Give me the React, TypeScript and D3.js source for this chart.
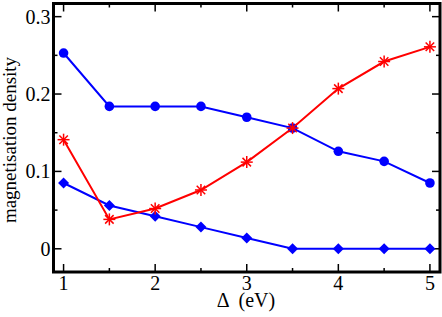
import React from "react";
import * as d3 from "d3";

const xValues = [1, 1.5, 2, 2.5, 3, 3.5, 4, 4.5, 5];
const circleSeries = [0.253, 0.184, 0.184, 0.184, 0.17, 0.156, 0.126, 0.113, 0.085];
const starSeries = [0.141, 0.038, 0.052, 0.076, 0.112, 0.156, 0.207, 0.242, 0.261];
const diamondSeries = [0.085, 0.056, 0.042, 0.028, 0.014, 0, 0, 0, 0];
const xTicks = [1, 2, 3, 4, 5];
const xMinor = [1.5, 2.5, 3.5, 4.5];
const yTicks = [0, 0.1, 0.2, 0.3];
const yTickLabels = ["0", "0.1", "0.2", "0.3"];
const yMinor = [0.05, 0.15, 0.25];

const W = 442;
const H = 317;
const L = 53.5, R = 440, T = 3.5, B = 272;

export default function App() {
  const x = d3.scaleLinear().domain([0.89, 5.11]).range([L, R]);
  const y = d3.scaleLinear().domain([-0.03, 0.317]).range([B, T]);
  const line = d3.line<number>().x((_, i) => x(xValues[i])).y((v) => y(v));
  const font = "'Liberation Serif', 'Times New Roman', serif";
  const blue = "#0000ff";
  const red = "#ff0000";
  const star = (cx: number, cy: number, k: number) => {
    const r = 6;
    const d = r * Math.SQRT1_2;
    return (
      <g key={k} stroke={red} strokeWidth={1.5}>
        <line x1={cx - r} y1={cy} x2={cx + r} y2={cy} />
        <line x1={cx} y1={cy - r} x2={cx} y2={cy + r} />
        <line x1={cx - d} y1={cy - d} x2={cx + d} y2={cy + d} />
        <line x1={cx - d} y1={cy + d} x2={cx + d} y2={cy - d} />
      </g>
    );
  };
  return (
    <svg width={W} height={H} style={{ position: "absolute", left: 0, top: 0, background: "#fff" }}>
      <rect width={W} height={H} fill="#fff" />
      <g stroke="#000" strokeWidth={1.5}>
        {xTicks.map((t) => (
          <g key={"xt" + t}>
            <line x1={x(t)} x2={x(t)} y1={B} y2={B - 8} />
            <line x1={x(t)} x2={x(t)} y1={T} y2={T + 8} />
          </g>
        ))}
        {xMinor.map((t) => (
          <g key={"xm" + t}>
            <line x1={x(t)} x2={x(t)} y1={B} y2={B - 4} />
            <line x1={x(t)} x2={x(t)} y1={T} y2={T + 4} />
          </g>
        ))}
        {yTicks.map((t) => (
          <g key={"yt" + t}>
            <line x1={L} x2={L + 8} y1={y(t)} y2={y(t)} />
            <line x1={R} x2={R - 8} y1={y(t)} y2={y(t)} />
          </g>
        ))}
        {yMinor.map((t) => (
          <g key={"ym" + t}>
            <line x1={L} x2={L + 4} y1={y(t)} y2={y(t)} />
            <line x1={R} x2={R - 4} y1={y(t)} y2={y(t)} />
          </g>
        ))}
      </g>
      <path d={line(circleSeries) || ""} fill="none" stroke={blue} strokeWidth={2} />
      <path d={line(diamondSeries) || ""} fill="none" stroke={blue} strokeWidth={2} />
      <path d={line(starSeries) || ""} fill="none" stroke={red} strokeWidth={2} />
      {circleSeries.map((v, i) => (
        <circle key={"c" + i} cx={x(xValues[i])} cy={y(v)} r={4.8} fill={blue} />
      ))}
      {diamondSeries.map((v, i) => {
        const cx = x(xValues[i]);
        const cy = y(v);
        const s = 5.5;
        return (
          <path key={"d" + i} d={`M${cx},${cy - s}L${cx + s},${cy}L${cx},${cy + s}L${cx - s},${cy}Z`} fill={blue} />
        );
      })}
      {starSeries.map((v, i) => star(x(xValues[i]), y(v), i))}
      <rect x={L} y={T} width={R - L} height={B - T} fill="none" stroke="#000" strokeWidth={3} />
      <g fontFamily={font} fontSize={20} fill="#000">
        {xTicks.map((t) => (
          <text key={"xl" + t} x={x(t)} y={290} textAnchor="middle">{t}</text>
        ))}
        {yTicks.map((t, i) => (
          <text key={"yl" + t} x={L - 3} y={y(t) + 7} textAnchor="end">{yTickLabels[i]}</text>
        ))}
      </g>
      <text x={246} y={307} textAnchor="middle" fontFamily={font} fontSize={20} style={{ whiteSpace: "pre" }}>
        {"Δ  (eV)"}
      </text>
      <text
        transform={`translate(16,140) rotate(-90)`}
        textAnchor="middle"
        fontFamily={font}
        fontSize={19}
      >
        magnetisation density
      </text>
    </svg>
  );
}
